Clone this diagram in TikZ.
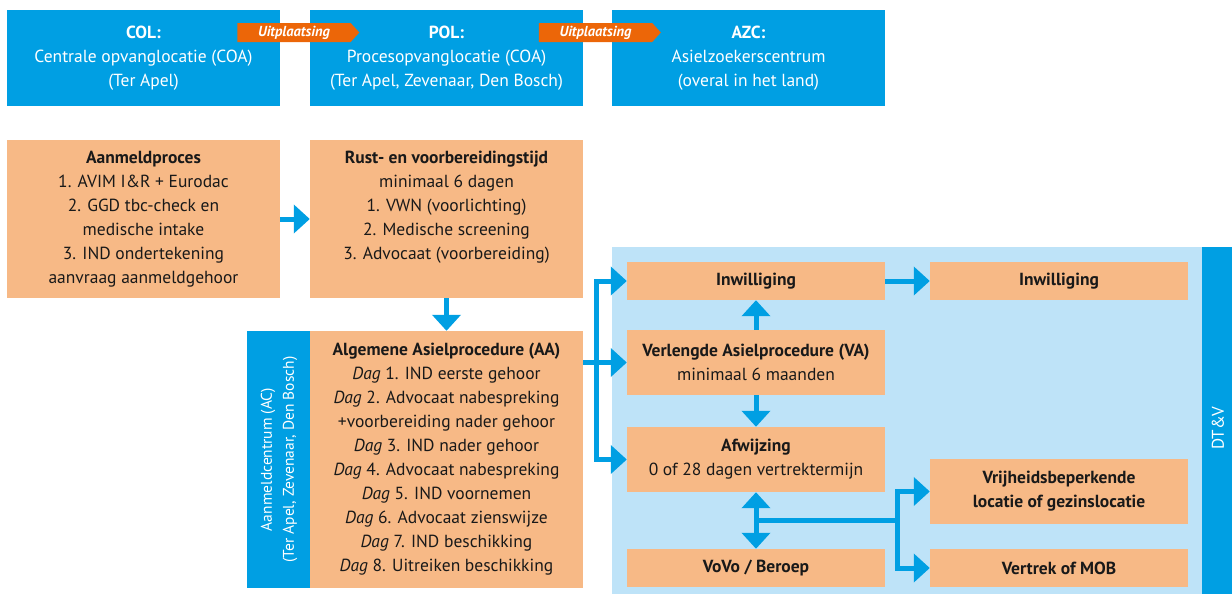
\documentclass[tikz,border=0pt]{standalone}
\usepackage{fontspec}
\setmainfont{PT Sans}
\usetikzlibrary{arrows.meta,shapes.symbols}
\definecolor{rblue}{RGB}{0,159,227}
\definecolor{peach}{RGB}{247,185,134}
\definecolor{lblue}{RGB}{190,227,248}
\definecolor{tagor}{RGB}{236,102,8}
\definecolor{ink}{RGB}{25,25,25}
\begin{document}
\begin{tikzpicture}[x=1pt,y=-1pt,
  bluebox/.style={rectangle, fill=rblue, inner sep=0pt, align=center, text=white,
    minimum width=273pt, minimum height=96pt, font=\fontsize{17.5}{24}\selectfont},
  obox/.style={rectangle, fill=peach, inner sep=0pt, align=center, text=ink,
    minimum width=273pt, font=\fontsize{17.5}{24}\selectfont},
  rbox/.style={obox, minimum width=258pt},
  txt/.style={inner sep=0pt, align=center, text=ink, font=\fontsize{17.5}{24}\selectfont},
  tag/.style={signal, signal to=east, signal from=nowhere, signal pointer angle=95,
    fill=tagor, text=white, inner sep=0pt, minimum width=122pt, minimum height=19pt,
    font=\fontsize{14.5}{14.5}\selectfont\bfseries\itshape},
  ln/.style={draw=rblue, line width=5pt},
  arr/.style={ln, -{Triangle[width=28pt,length=16pt]}},
  arrb/.style={ln, {Triangle[width=28pt,length=16pt]}-{Triangle[width=28pt,length=16pt]}}
]
\useasboundingbox (0,0) rectangle (1232,595);

% top row
\node[bluebox] (COL) at (143.5,58) {\textbf{COL:}\\Centrale opvanglocatie (COA)\\(Ter Apel)};
\node[bluebox] (POL) at (446.5,58) {\textbf{POL:}\\Procesopvanglocatie (COA)\\(Ter Apel, Zevenaar, Den Bosch)};
\node[bluebox] (AZC) at (748.5,58) {\textbf{AZC:}\\Asielzoekerscentrum\\(overal in het land)};
\node[tag] (T1) at (294,32.5) {Uitplaatsing};
\node[tag] (T2) at (595.5,32.5) {Uitplaatsing};

% second row
\node[obox, minimum height=158pt] (AM) at (143.5,219) {\textbf{Aanmeldproces}\\1. AVIM I\&R + Eurodac\\2. GGD tbc-check en\\medische intake\\3. IND ondertekening\\aanvraag aanmeldgehoor};
\node[obox, minimum height=158pt] (RU) at (446.5,219) {};
\node[txt] (RUt) at (446.5,207) {\textbf{Rust- en voorbereidingstijd}\\minimaal 6 dagen\\1. VWN (voorlichting)\\2. Medische screening\\3. Advocaat (voorbereiding)};

% AC
\node[rectangle, fill=rblue, minimum width=63pt, minimum height=257pt, inner sep=0pt] (AC) at (278.5,459.5) {};
\node[text=white, align=center, rotate=90, inner sep=0pt, font=\fontsize{15.5}{22}\selectfont] (ACt) at (279,459.5) {Aanmeldcentrum (AC)\\(Ter Apel, Zevenaar, Den Bosch)};
\node[obox, minimum height=257pt] (AA) at (446.5,459.5) {\textbf{Algemene Asielprocedure (AA)}\\\textit{Dag} 1. IND eerste gehoor\\\textit{Dag} 2. Advocaat nabespreking\\+voorbereiding nader gehoor\\\textit{Dag} 3. IND nader gehoor\\\textit{Dag} 4. Advocaat nabespreking\\\textit{Dag} 5. IND voornemen\\\textit{Dag} 6. Advocaat zienswijze\\\textit{Dag} 7. IND beschikking\\\textit{Dag} 8. Uitreiken beschikking};

% right area
\node[rectangle, fill=lblue, inner sep=0pt, minimum width=620pt, minimum height=347pt] (BG) at (922,420.5) {};
\node[rectangle, fill=rblue, inner sep=0pt, minimum width=30pt, minimum height=347pt] (DT) at (1217,420.5) {};
\node[text=white, rotate=90, inner sep=0pt, font=\fontsize{17}{20}\selectfont] (DTt) at (1218,428) {DT\&V};

\node[rbox, minimum height=38pt] (I1) at (756,281) {\textbf{Inwilliging}};
\node[rbox, minimum height=38pt] (I2) at (1059,281) {\textbf{Inwilliging}};
\node[rbox, minimum height=65pt] (VA) at (756,362.5) {\textbf{Verlengde Asielprocedure (VA)}\\minimaal 6 maanden};
\node[rbox, minimum height=65pt] (AF) at (756,459.5) {\textbf{Afwijzing}\\0 of 28 dagen vertrektermijn};
\node[rbox, minimum height=38pt] (VO) at (756,568) {\textbf{VoVo / Beroep}};
\node[rbox, minimum height=65pt] (VR) at (1059,491.5) {\textbf{Vrijheidsbeperkende}\\\textbf{locatie of gezinslocatie}};
\node[rbox, minimum height=38pt] (VE) at (1059,568) {\textbf{Vertrek of MOB}};

% connectors
\draw[arr] (AM.east) -- (RU.west);
\draw[arr] (RU.south) -- (AA.north);

\coordinate (bt) at (596,281);
\coordinate (bm) at (596,362.5);
\coordinate (bb) at (596,459.5);
\draw[ln] (AA.east |- bm) -- (bm);
\draw[ln, line cap=rect] (bt) -- (bb);
\draw[arr] (bt) -- (I1.west);
\draw[arr] (bm) -- (VA.west);
\draw[arr] (bb) -- (AF.west);

\draw[arr] (VA.north) -- (I1.south);
\draw[arr] (VA.south) -- (AF.north);
\draw[arr] (I1.east) -- (I2.west);
\draw[arrb] (AF.south) -- (VO.north);

\coordinate (j) at (756,520);
\coordinate (k) at (897,520);
\coordinate (kt) at (897,491.5);
\coordinate (kb) at (897,568);
\draw[ln] (j) -- (k);
\draw[ln, line cap=rect] (kt) -- (kb);
\draw[arr] (kt) -- (VR.west);
\draw[arr] (kb) -- (VE.west);
\end{tikzpicture}
\end{document}
